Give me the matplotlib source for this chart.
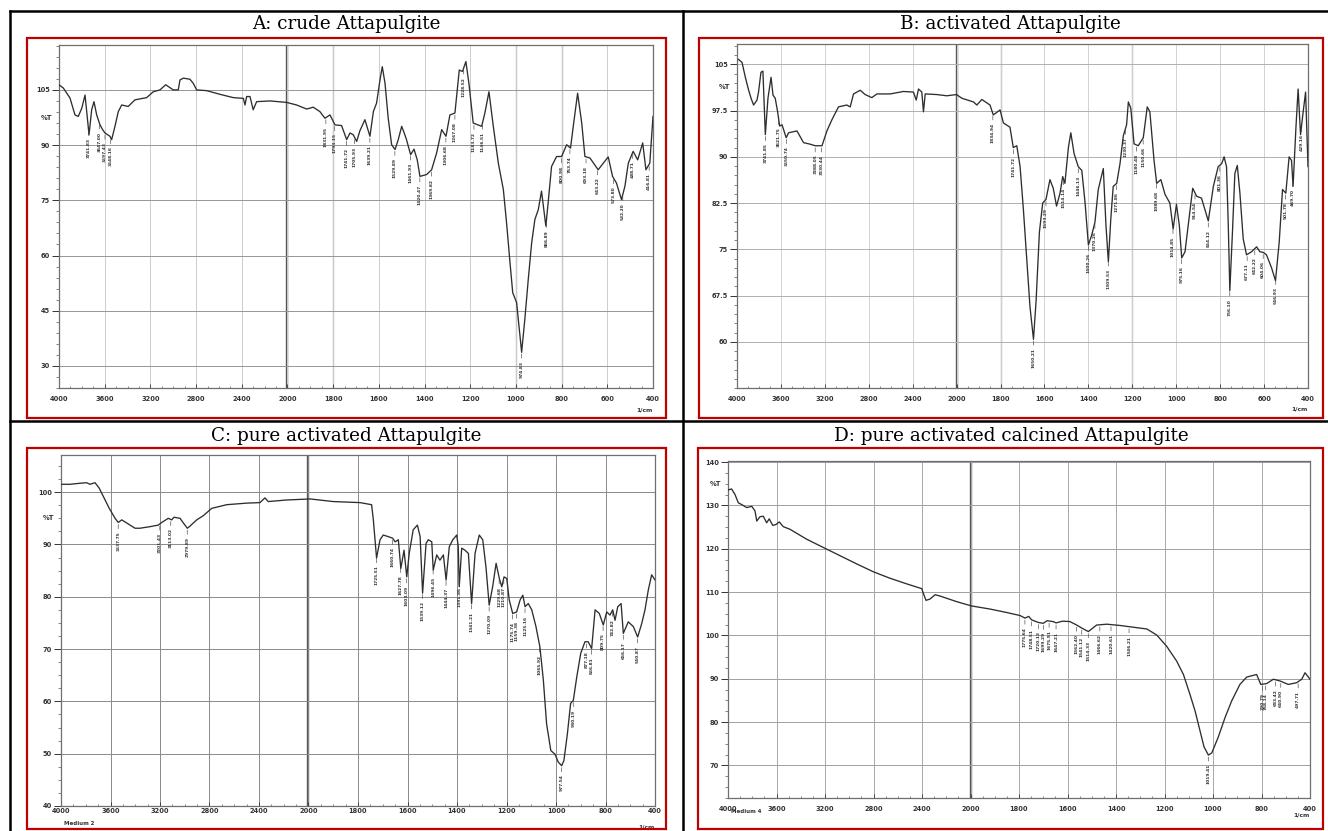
import numpy as np
import matplotlib
matplotlib.use("Agg")
import matplotlib.pyplot as plt
from matplotlib.lines import Line2D
from matplotlib.patches import Rectangle

W, H = 1328, 831

titles = ["A: crude Attapulgite", "B: activated Attapulgite",
          "C: pure activated Attapulgite", "D: pure activated calcined Attapulgite"]

# ---- spectra: wavenumber (1/cm) and transmittance (%T) ----
a_wn = [4000, 3962, 3904, 3860, 3831, 3801, 3772, 3737, 3714, 3694, 3670, 3641, 3618, 3598,
        3554, 3539, 3510, 3481, 3451, 3394, 3335, 3233, 3174, 3116, 3066, 3000, 2956, 2941,
        2912, 2854, 2825, 2795, 2708, 2591, 2474, 2386, 2372, 2357, 2328, 2300, 2270, 2153,
        2007, 1960, 1916, 1887, 1858, 1836, 1814, 1792, 1763, 1741, 1726, 1712, 1697, 1683,
        1661, 1639, 1624, 1610, 1595, 1585, 1573, 1559, 1544, 1529, 1515, 1500, 1489, 1479,
        1461, 1446, 1432, 1420, 1391, 1369, 1347, 1325, 1306, 1289, 1267, 1248, 1234, 1219,
        1205, 1187, 1150, 1136, 1118, 1099, 1077, 1055, 1041, 1026, 1014, 997, 975, 961,
        946, 931, 917, 902, 888, 869, 859, 844, 822, 800, 778, 761, 749, 730, 712, 698, 676,
        640, 596, 577, 560, 538, 523, 508, 487, 467, 445, 431, 414, 400]
a_t = [106.4, 105.5, 102.8, 98.2, 97.8, 100.0, 103.6, 92.8, 99.6, 101.8, 98.2, 95.5, 94.2, 93.3,
       92.4, 91.5, 95.1, 99.1, 100.9, 100.5, 102.3, 102.9, 104.5, 105.0, 106.4, 105.0, 105.0, 107.7,
       108.2, 107.9, 106.8, 105.0, 104.8, 103.8, 102.9, 102.7, 100.9, 103.2, 103.2, 99.6, 101.8, 102.0,
       101.6, 100.9, 99.8, 100.3, 99.1, 97.3, 98.2, 95.5, 95.3, 91.5, 93.3, 92.8, 91.0, 93.9,
       96.9, 92.4, 99.1, 101.4, 107.7, 111.3, 106.8, 97.3, 90.1, 88.8, 91.5, 95.1, 93.3, 91.5,
       87.4, 88.9, 86.0, 81.5, 82.0, 83.3, 87.9, 94.2, 92.4, 98.2, 98.7, 110.4, 110.0, 112.7,
       106.4, 96.0, 95.1, 98.7, 104.5, 95.1, 85.1, 77.9, 68.9, 58.1, 49.9, 47.2, 33.7, 42.7,
       53.5, 63.5, 69.8, 72.5, 77.5, 68.0, 74.3, 84.2, 86.9, 86.9, 90.1, 89.2, 95.1, 104.1, 96.0, 86.9, 86.5,
       83.3, 86.8, 81.5, 79.7, 75.2, 78.8, 85.1, 88.3, 86.0, 90.6, 83.3, 85.1, 97.8]

b_wn = [3986, 3954, 3924, 3894, 3872, 3849, 3818, 3804, 3782, 3764, 3742, 3718, 3690, 3672,
        3652, 3630, 3612, 3590, 3552, 3530, 3454, 3394, 3334, 3288, 3226, 3181, 3136, 3076,
        3000, 2969, 2939, 2878, 2833, 2772, 2726, 2605, 2484, 2393, 2368, 2347, 2317, 2302,
        2286, 2180, 2090, 2001, 1976, 1923, 1908, 1885, 1848, 1833, 1802, 1787, 1757, 1742,
        1726, 1711, 1696, 1681, 1666, 1650, 1638, 1623, 1608, 1593, 1575, 1560, 1545, 1529,
        1517, 1507, 1491, 1480, 1465, 1446, 1430, 1415, 1400, 1385, 1370, 1355, 1332, 1320,
        1309, 1298, 1287, 1271, 1256, 1241, 1226, 1218, 1207, 1192, 1173, 1150, 1132, 1120,
        1101, 1089, 1070, 1051, 1029, 1014, 999, 986, 975, 960, 938, 925, 907, 885, 854, 831,
        809, 793, 782, 771, 763, 756, 744, 733, 722, 710, 695, 680, 657, 634, 619, 604, 589,
        566, 548, 531, 516, 501, 486, 475, 468, 455, 445, 434, 422, 411, 400]
b_t = [105.8, 105.3, 102.9, 100.8, 99.5, 98.4, 99.2, 100.5, 103.7, 103.9, 93.6, 99.5, 102.9, 100.0,
       99.5, 97.3, 95.0, 95.2, 93.1, 93.9, 94.2, 92.3, 92.05, 91.8, 91.8, 94.2, 96.0, 98.1,
       98.4, 98.1, 100.2, 100.8, 100.1, 99.6, 100.2, 100.2, 100.6, 100.5, 99.2, 101.0, 100.5, 97.3,
       100.2, 100.1, 99.9, 100.1, 99.5, 98.9, 98.4, 99.3, 98.4, 96.8, 97.6, 95.5, 94.8, 91.5,
       91.8, 88.4, 81.5, 73.6, 65.7, 60.4, 66.7, 77.8, 82.5, 83.1, 86.3, 84.9, 82.0, 84.1,
       86.8, 85.7, 91.5, 93.9, 90.5, 88.4, 87.8, 82.5, 75.7, 77.3, 79.4, 84.7, 88.1, 78.9,
       73.0, 79.9, 85.2, 85.7, 88.9, 93.4, 95.2, 98.9, 97.9, 92.1, 91.8, 93.1, 98.1, 97.3,
       89.4, 85.7, 86.3, 83.9, 82.5, 78.3, 82.3, 78.9, 73.6, 74.6, 81.0, 84.9, 83.6, 83.3, 79.6, 85.2,
       88.4, 88.9, 90.0, 88.4, 78.9, 68.3, 77.8, 87.3, 88.6, 84.1, 76.7, 74.1, 74.6, 75.4, 74.6, 74.5, 74.1,
       72.0, 69.9, 76.2, 84.7, 84.1, 90.0, 89.4, 85.2, 94.7, 101.0, 93.6, 97.3, 100.5, 88.4]

c_wn = [3994, 3927, 3846, 3792, 3766, 3725, 3692, 3652, 3610, 3563, 3537, 3509, 3469, 3402,
        3362, 3281, 3214, 3186, 3133, 3106, 3087, 3038, 3011, 2979, 2958, 2931, 2903, 2850,
        2782, 2661, 2500, 2392, 2352, 2325, 2176, 1994, 1900, 1792, 1745, 1738, 1725, 1711,
        1698, 1678, 1660, 1650, 1637, 1627, 1614, 1603, 1593, 1577, 1560, 1549, 1539, 1525,
        1516, 1502, 1496, 1482, 1469, 1455, 1444, 1431, 1417, 1401, 1395, 1391, 1381, 1368,
        1354, 1341, 1327, 1310, 1296, 1283, 1270, 1256, 1242, 1229, 1219, 1210, 1199, 1189,
        1175, 1159, 1145, 1134, 1125, 1112, 1098, 1081, 1065, 1051, 1038, 1021, 1004, 991,
        977, 968, 954, 941, 930, 916, 900, 883, 870, 856, 842, 825, 809, 790, 764, 742, 723,
        701, 674, 656, 616, 575, 540, 507, 481, 454, 427, 400]
c_t = [101.5, 101.5, 101.7, 101.8, 101.5, 101.8, 100.8, 98.9, 96.9, 95.0, 94.2, 94.7, 94.1, 93.1,
       93.1, 93.4, 93.7, 94.2, 95.0, 94.7, 95.2, 95.0, 94.1, 93.1, 93.5, 94.1, 94.7, 95.5,
       96.9, 97.6, 97.9, 98.0, 98.9, 98.2, 98.5, 98.7, 98.2, 98.0, 97.6, 94.7, 87.4, 90.9,
       91.8, 91.5, 91.2, 90.5, 90.9, 85.4, 88.9, 83.8, 88.3, 92.8, 93.7, 91.5, 80.7, 90.2,
       90.9, 90.5, 85.1, 88.0, 87.0, 88.0, 83.2, 89.6, 90.9, 91.8, 89.6, 81.9, 89.3, 88.9,
       88.3, 78.7, 88.3, 91.8, 90.9, 85.7, 78.4, 81.9, 86.4, 83.5, 81.9, 83.8, 83.5, 79.4,
       76.8, 77.1, 79.4, 80.3, 78.1, 78.7, 77.5, 74.3, 70.4, 64.0, 55.7, 50.6, 49.9, 48.4,
       47.7, 48.7, 53.8, 59.6, 60.2, 64.7, 69.2, 71.4, 71.4, 70.1, 77.5, 76.8, 74.6, 77.1, 76.5, 77.5, 75.5,
       78.1, 78.7, 73.0, 75.2, 74.3, 72.3, 74.9, 77.5, 81.3, 84.2, 83.2]

d_wn = [3996, 3970, 3942, 3915, 3887, 3846, 3804, 3777, 3763, 3736, 3709, 3681, 3660, 3631,
        3604, 3577, 3544, 3489, 3351, 3214, 3076, 2938, 2802, 2664, 2526, 2402, 2389, 2367,
        2334, 2292, 2252, 2114, 1995, 1920, 1851, 1796, 1775, 1760, 1748, 1720, 1700, 1684,
        1659, 1647, 1620, 1590, 1562, 1541, 1514, 1480, 1438, 1383, 1315, 1273, 1232, 1191,
        1150, 1122, 1095, 1074, 1054, 1037, 1019, 1005, 978, 950, 923, 889, 861, 820, 803,
        757, 702, 647, 579, 510, 468, 441, 400]
d_t = [133.6, 133.8, 132.5, 130.6, 130.2, 129.5, 129.8, 128.7, 126.4, 127.4, 127.5, 126.0, 126.9, 125.4,
       125.6, 126.2, 125.1, 124.5, 122.2, 120.3, 118.4, 116.5, 114.7, 113.2, 111.9, 110.8, 109.7, 108.1,
       108.4, 109.4, 109.1, 107.8, 106.8, 106.1, 105.3, 104.6, 104.0, 104.4, 103.6, 103.0, 102.8, 103.4,
       103.2, 102.9, 103.3, 103.2, 102.4, 101.7, 100.9, 102.4, 102.6, 102.3, 101.8, 101.5, 100.1, 97.5,
       94.1, 91.0, 86.4, 82.6, 78.1, 74.3, 72.4, 72.9, 76.6, 81.1, 84.9, 88.7, 90.4, 91.0, 88.7,
       88.9, 89.9, 89.5, 88.7, 89.1, 89.9, 91.4, 89.9]

# ---- annotated peak positions (1/cm) ----
a_peaks = [3741.83, 3647.00, 3597.43, 3548.16, 1831.95, 1793.15, 1741.72, 1705.93, 1639.21,
           1529.89, 1461.93, 1420.47, 1369.82, 1306.68, 1267.08, 1228.52, 1183.72, 1146.51,
           974.83, 866.89, 800.98, 763.74, 693.18, 643.22, 573.80, 532.20, 488.71, 416.81]
b_peaks = [3741.85, 3621.75, 3550.74, 3288.05, 3230.44, 1834.94, 1741.72, 1650.21, 1593.29,
           1514.14, 1446.13, 1400.26, 1370.26, 1309.53, 1271.86, 1230.37, 1180.48, 1150.66,
           1089.68, 1014.85, 975.16, 914.54, 854.12, 801.36, 756.10, 677.11, 642.22, 604.06,
           546.93, 501.78, 469.70, 429.16]
c_peaks = [3537.75, 3201.43, 3113.02, 2979.89, 1725.51, 1660.74, 1627.78, 1603.09, 1539.12,
           1496.45, 1444.37, 1391.86, 1341.21, 1270.09, 1229.68, 1210.87, 1175.74, 1159.38,
           1125.16, 1065.92, 977.54, 930.19, 877.18, 856.81, 809.75, 742.82, 656.17, 540.87]
d_peaks = [1775.64, 1748.51, 1720.12, 1699.29, 1675.91, 1647.21, 1562.40, 1541.12, 1514.33,
           1466.62, 1420.61, 1346.21, 1019.41, 790.79, 768.14, 683.42, 640.90, 497.71]

# ---- axis ticks ----
x_ticks_ab = [4000, 3600, 3200, 2800, 2400, 2000, 1800, 1600, 1400, 1200, 1000, 800, 600, 400]
x_ticks_cd = [4000, 3600, 3200, 2800, 2400, 2000, 1800, 1600, 1400, 1200, 1000, 800, 400]
a_yticks = [30, 45, 60, 75, 90, 105]
b_yticks = [60, 67.5, 75, 82.5, 90, 97.5, 105]
c_yticks = [40, 50, 60, 70, 80, 90, 100]
d_yticks = [70, 80, 90, 100, 110, 120, 130, 140]

# piecewise-linear wavenumber axis (compressed above 2000 1/cm)
knots_ab = ([400, 2000, 4000], [0, 1600, 2600])
knots_cd = ([400, 800, 2000, 4000], [0, 200, 1400, 2400])


def make_scale(wk, pk):
    wk = np.asarray(wk, float)
    pk = np.asarray(pk, float)

    def fwd(x):
        x = np.asarray(x, float)
        i = np.clip(np.searchsorted(wk, x) - 1, 0, len(wk) - 2)
        return pk[i] + (x - wk[i]) * (pk[i + 1] - pk[i]) / (wk[i + 1] - wk[i])

    def inv(p):
        p = np.asarray(p, float)
        i = np.clip(np.searchsorted(pk, p) - 1, 0, len(pk) - 2)
        return wk[i] + (p - pk[i]) * (wk[i + 1] - wk[i]) / (pk[i + 1] - pk[i])

    return fwd, inv


fig = plt.figure(figsize=(W / 100, H / 100), dpi=100)
fig.patch.set_facecolor("white")


def fx(x):
    return x / W


def fy(y):
    return 1 - y / H


def px_axes(left, top, right, bottom):
    return fig.add_axes([fx(left), fy(bottom), (right - left) / W, (bottom - top) / H])


def draw_panel(box, wn, t, peaks, yticks, ylim, ymid, minor_y, xticks, knots,
               xgrid_col, ygrid_col, xpad, cm_off, dark_lines, note=None):
    ax = px_axes(*box)
    fwd, inv = make_scale(*knots)
    ax.set_xscale("function", functions=(fwd, inv))
    ax.set_xlim(4000, 400)
    ax.set_ylim(*ylim)

    ax.set_xticks(xticks)
    ax.set_xticklabels([str(v) for v in xticks])
    ax.set_xticks(inv(np.arange(knots[1][0], knots[1][-1] + 1, 50)), minor=True)
    ax.set_yticks(yticks)
    ax.set_yticklabels([f"{v:g}" for v in yticks])
    ax.set_yticks(np.arange(ylim[0] - ylim[0] % minor_y, ylim[1], minor_y), minor=True)

    ax.tick_params(axis="y", which="major", length=5, width=0.7, pad=1.5,
                   labelsize=4.8, colors="#333333")
    ax.tick_params(axis="y", which="minor", length=2.5, width=0.5, colors="#555555")
    ax.tick_params(axis="x", which="major", direction="in", length=3, width=0.6,
                   pad=xpad, labelsize=4.8, colors="#333333")
    ax.tick_params(axis="x", which="minor", direction="in", length=1.8, width=0.5,
                   colors="#555555")
    for lbl in ax.get_xticklabels() + ax.get_yticklabels():
        lbl.set_fontweight("bold")

    ax.grid(True, axis="x", which="major", color=xgrid_col, lw=0.7)
    ax.grid(True, axis="y", which="major", color=ygrid_col, lw=0.7)
    ax.axvline(2000, color="#555555", lw=1.7, zorder=1)
    for v in dark_lines:
        ax.axvline(v, color="#8c8c8c", lw=0.9, zorder=1)
    for s in ax.spines.values():
        s.set_color("#6f6f6f")
        s.set_linewidth(0.9)

    ax.plot(wn, t, color="#2e2e2e", lw=0.95, zorder=3)

    wn_asc = np.asarray(wn, float)[::-1]
    t_asc = np.asarray(t, float)[::-1]
    for p in peaks:
        y0 = np.interp(p, wn_asc, t_asc)
        ax.annotate(f"{p:.2f}", xy=(p, y0), xytext=(0, -6.5), textcoords="offset points",
                    rotation=90, ha="center", va="top", fontsize=3.2, color="#333333",
                    fontweight="bold",
                    arrowprops=dict(arrowstyle="-", lw=0.45, color="#444444",
                                    shrinkA=0, shrinkB=1.5), zorder=4)

    ax.text(-0.012, ymid, "%T", transform=ax.get_yaxis_transform(), ha="right",
            va="center", fontsize=4.8, fontweight="bold", color="#333333")
    ax.text(0.985, cm_off, "1/cm", transform=ax.transAxes, ha="center", va="center",
            fontsize=4.3, fontweight="bold", color="#333333")
    if note:
        ax.text(0.005, cm_off + 0.01, note, transform=ax.transAxes, ha="left", va="center",
                fontsize=4.0, fontweight="bold", color="#333333")
    return ax


draw_panel((59, 45, 653, 388), a_wn, a_t, a_peaks, a_yticks, (24.3, 117.2), 97.5, 3,
           x_ticks_ab, knots_ab, "#cccccc", "#959595", 5.5, -0.065, [1800, 1000, 800])
draw_panel((737, 44, 1308, 388), b_wn, b_t, b_peaks, b_yticks, (53.8, 108.3), 101.25, 1.5,
           x_ticks_ab, knots_ab, "#d2d2d2", "#b0b0b0", 5.5, -0.06, [1800, 1200])
draw_panel((61, 455, 655, 806), c_wn, c_t, c_peaks, c_yticks, (40.0, 107.1), 95, 2.5,
           x_ticks_cd, knots_cd, "#8a8a8a", "#8a8a8a", 1.5, -0.06, [], note="Medium 2")
draw_panel((728, 461, 1310, 798), d_wn, d_t, d_peaks, d_yticks, (63.3, 140.25), 135, 2.5,
           x_ticks_cd, knots_cd, "#a8a8a8", "#a0a0a0", 5.5, -0.05, [], note="Medium 4")

# ---- table rules and red frames ----
black = dict(color="black", lw=1.8, transform=fig.transFigure)
for (x0, y0, x1, y1) in [(10, 11, 1328, 11), (10, 421, 1328, 421),
                         (10, 11, 10, 831), (683, 11, 683, 831)]:
    fig.add_artist(Line2D([fx(x0), fx(x1)], [fy(y0), fy(y1)], **black))

for (x0, y0, x1, y1) in [(27, 38, 666, 418), (699, 38, 1323, 418),
                         (27, 448, 666, 829), (698, 448, 1323, 829)]:
    fig.add_artist(Rectangle((fx(x0), fy(y1)), (x1 - x0) / W, (y1 - y0) / H,
                             transform=fig.transFigure, fill=False,
                             edgecolor="#c00000", lw=1.6))

for title, (cx, cy) in zip(titles, [(346, 24), (1010, 24), (346, 436), (1011, 436)]):
    fig.text(fx(cx), fy(cy), title, ha="center", va="center", fontsize=13.2,
             family="DejaVu Serif", color="black")

fig.savefig("out.png", dpi=100, facecolor="white")
